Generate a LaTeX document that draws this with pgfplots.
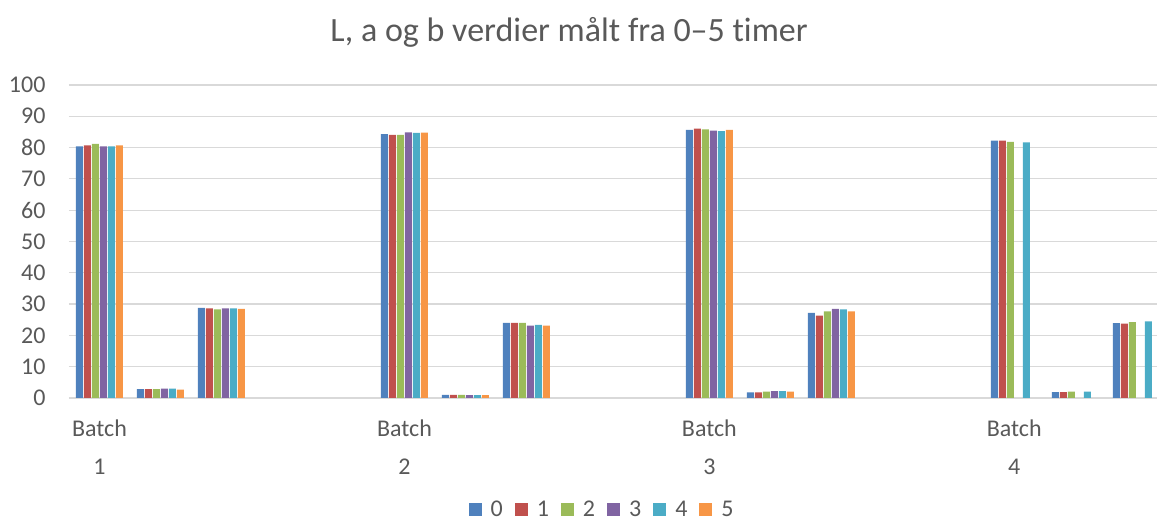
\documentclass[border=0pt]{standalone}
\usepackage{fontspec}
\setmainfont{Carlito}[Ligatures=NoCommon]
\usepackage{pgfplots}
\pgfplotsset{compat=1.18}
\definecolor{c0}{HTML}{4F81BD}
\definecolor{c1}{HTML}{C0504D}
\definecolor{c2}{HTML}{9BBB59}
\definecolor{c3}{HTML}{8064A2}
\definecolor{c4}{HTML}{4BACC6}
\definecolor{c5}{HTML}{F79646}
\definecolor{txt}{HTML}{595959}
\definecolor{gridc}{HTML}{D9D9D9}
\begin{document}
\begin{tikzpicture}
\useasboundingbox (-69pt,-123pt) rectangle (1088pt,398pt);
\begin{axis}[
  at={(0pt,0pt)}, anchor=south west,
  scale only axis, width=1088pt, height=313pt,
  ybar=1pt, bar width=7pt,
  xmin=-0.5, xmax=17.34, ymin=0, ymax=100,
  enlargelimits=false,
  axis x line=bottom, axis y line=left,
  x axis line style={draw=gridc, line width=1.2pt, -},
  y axis line style={draw=none},
  major tick length=0pt,
  ytick={0,10,...,100},
  ymajorgrids, grid style={draw=gridc, line width=1.2pt},
  xtick={0,5,10,15},
  xticklabels={{Batch\\1},{Batch\\2},{Batch\\3},{Batch\\4}},
  x tick label style={align=center, font=\fontsize{24}{38}\selectfont, text=txt, yshift=-18pt},
  y tick label style={font=\fontsize{24}{28}\selectfont, text=txt, xshift=-20pt},
  /pgf/number format/assume math mode=true,
  title={L, a og b verdier målt fra 0–5 timer},
  title style={at={(0.4596,1.15)}, anchor=center, font=\fontsize{34}{40}\selectfont, text=txt},
  legend style={at={(0.49,-0.355)}, anchor=center, legend columns=-1, draw=none, fill=none,
    font=\fontsize{24}{26}\selectfont, text=txt, inner sep=0pt,
    /tikz/every even column/.append style={column sep=10pt},
    /tikz/every odd column/.append style={column sep=7pt}},
  legend image code/.code={\fill[#1,draw=none] (0pt,-6.5pt) rectangle (13pt,6.5pt);},
  every axis plot/.append style={draw=none},
]
\addplot[fill=c0] coordinates {(0,80.4) (1,2.8) (2,28.8) (5,84.3) (6,1.0) (7,24.0) (10,85.7) (11,1.8) (12,27.2) (15,82.2) (16,1.9) (17,23.9)};
\addplot[fill=c1] coordinates {(0,80.7) (1,2.8) (2,28.6) (5,84.1) (6,1.0) (7,24.0) (10,86.1) (11,1.8) (12,26.3) (15,82.2) (16,1.9) (17,23.8)};
\addplot[fill=c2] coordinates {(0,81.2) (1,2.8) (2,28.3) (5,84.1) (6,1.0) (7,24.0) (10,85.8) (11,2.0) (12,27.7) (15,81.8) (16,2.0) (17,24.2)};
\addplot[fill=c3] coordinates {(0,80.4) (1,3.0) (2,28.6) (5,84.9) (6,0.9) (7,23.1) (10,85.4) (11,2.2) (12,28.5)};
\addplot[fill=c4] coordinates {(0,80.4) (1,3.0) (2,28.6) (5,84.7) (6,0.9) (7,23.4) (10,85.3) (11,2.2) (12,28.3) (15,81.7) (16,2.0) (17,24.5)};
\addplot[fill=c5] coordinates {(0,80.7) (1,2.7) (2,28.5) (5,84.8) (6,0.9) (7,23.1) (10,85.7) (11,2.0) (12,27.7)};
\legend{0,1,2,3,4,5}
\end{axis}
\end{tikzpicture}
\end{document}
